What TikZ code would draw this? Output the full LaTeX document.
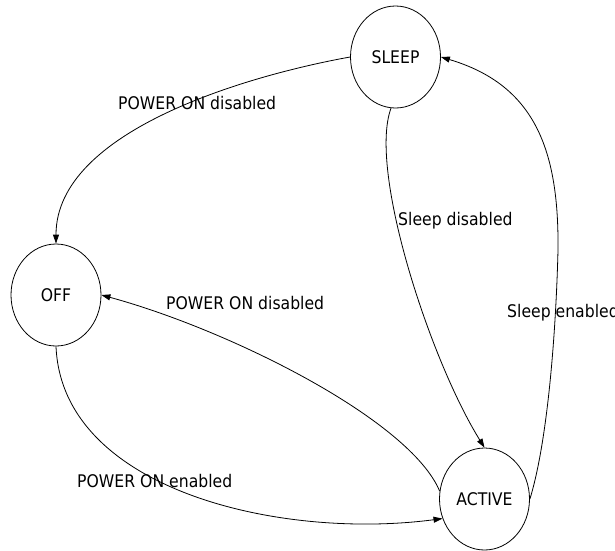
\documentclass[tikz,border=0pt]{standalone}
\usepackage{fontspec}
\setmainfont{DejaVu Sans}[FakeStretch=0.9]
\usetikzlibrary{arrows.meta,shapes.geometric}
\begin{document}
\begin{tikzpicture}[x=1pt,y=-1pt,
  state/.style={draw,ellipse,line width=0.8pt,minimum width=90pt,minimum height=102pt,inner sep=0pt,font=\fontsize{17.4}{20}\selectfont},
  lbl/.style={anchor=base west,inner sep=0pt,font=\fontsize{17.4}{20}\selectfont},
  edge/.style={line width=0.8pt,-{Triangle[length=9pt,width=6pt]}}]
\useasboundingbox (0,0) rectangle (615,550);
\node[state] (sleep) at (395.5,57) {SLEEP};
\node[state] (off) at (56,295) {OFF};
\node[state] (active) at (484.5,499) {ACTIVE};
\node[lbl] (l1) at (118,109) {POWER ON disabled};
\node[lbl] (l2) at (398,225) {Sleep disabled};
\node[lbl] (l3) at (507,317) {Sleep enabled};
\node[lbl] (l4) at (166,309) {POWER ON disabled};
\node[lbl] (l5) at (77,487) {POWER ON enabled};
\draw[edge] (sleep.west) .. controls (250,75) and (56,130) .. (off.north);
\draw[edge] (sleep.265) .. controls (368,170) and (430,360) .. (active.north);
\draw[edge] (active.east) .. controls (548,440) and (556,330) .. (558,250) .. controls (559,150) and (535,85) .. (sleep.east);
\draw[edge] (active.170) .. controls (410,420) and (230,330) .. (off.east);
\draw[edge] (off.south) .. controls (62,490) and (280,540) .. (active.205);
\end{tikzpicture}
\end{document}
